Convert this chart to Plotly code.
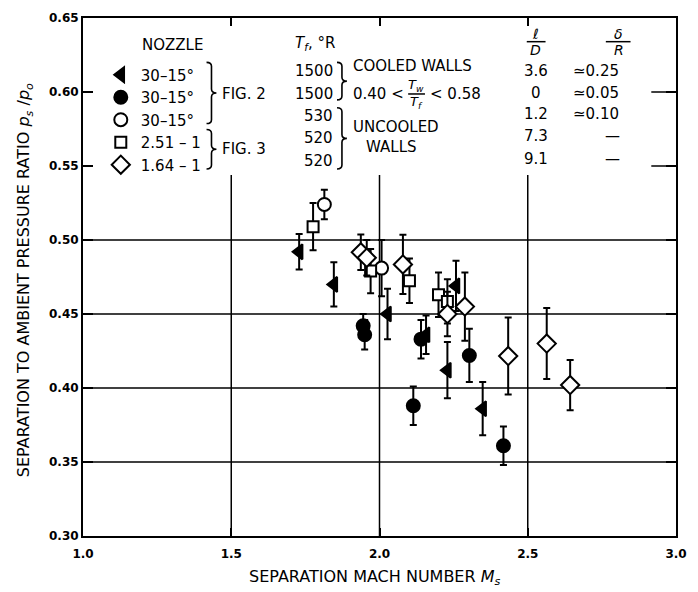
import plotly.graph_objects as go

# ---------------- data ----------------
tri_x = [1.729, 1.846, 2.027, 2.157, 2.229, 2.258, 2.348]
tri_y = [0.492, 0.470, 0.450, 0.436, 0.412, 0.469, 0.386]
tri_e = [0.012, 0.015, 0.017, 0.013, 0.019, 0.017, 0.018]

cir_x = [1.945, 1.950, 2.140, 2.114, 2.303, 2.418]
cir_y = [0.442, 0.436, 0.433, 0.388, 0.422, 0.361]
cir_e = [0.008, 0.010, 0.013, 0.013, 0.018, 0.013]

dome_x = [1.814, 2.007]
dome_y = [0.524, 0.481]
dome_e = [0.010, 0.019]

sq_x = [1.776, 1.970, 2.101, 2.199, 2.229]
sq_y = [0.509, 0.479, 0.4725, 0.463, 0.4585]
sq_e = [0.016, 0.015, 0.015, 0.015, 0.015]

dia_x = [1.937, 1.957, 2.079, 2.229, 2.288, 2.434, 2.564, 2.643]
dia_y = [0.4917, 0.488, 0.4835, 0.450, 0.455, 0.4216, 0.430, 0.402]
dia_e = [0.012, 0.012, 0.020, 0.015, 0.023, 0.026, 0.024, 0.017]

names = ["30–15°", "30–15°", "30–15°", "2.51 – 1", "1.64 – 1"]
tf_vals = ["1500", "1500", "530", "520", "520"]
ld_vals = ["3.6", "0", "1.2", "7.3", "9.1"]
dr_vals = ["≃0.25", "≃0.05", "≃0.10", "—", "—"]

x_ticks = [1.0, 1.5, 2.0, 2.5, 3.0]
y_ticks = [0.30, 0.35, 0.40, 0.45, 0.50, 0.55, 0.60, 0.65]
x_grid = [1.5, 2.0, 2.5]
y_grid = [0.35, 0.40, 0.45, 0.50]
y_right_ticks = [0.55, 0.60]

FONT = "DejaVu Sans"

# ---------------- figure ----------------
fig = go.Figure()

def add(x, y, e, sym, fill, name, size):
    fig.add_trace(go.Scatter(
        x=x, y=y, mode="markers", name=name,
        marker=dict(symbol=sym, color=fill, size=size,
                    line=dict(color="black", width=2)),
        error_y=dict(type="data", array=e, visible=True,
                     color="black", thickness=2, width=3.5),
    ))

add(tri_x, tri_y, tri_e, "triangle-left", "black", names[0], 13)
add(cir_x, cir_y, cir_e, "circle", "black", names[1], 13)
add(dome_x, dome_y, dome_e, "circle", "white", names[2], 13)
add(sq_x, sq_y, sq_e, "square", "white", names[3], 11)
add(dia_x, dia_y, dia_e, "diamond", "white", names[4], 14)

L, R, T, B = 83, 683, 11, 536
W, H = R - L, B - T

def px(x):
    return (x - L) / W

def py(y):
    return (B - y) / H

shapes = []
for gy in y_grid:
    shapes.append(dict(type="line", xref="x", yref="y", x0=x_ticks[0], x1=x_ticks[-1],
                       y0=gy, y1=gy, line=dict(color="black", width=1.5), layer="below"))
for gx in x_grid:
    shapes.append(dict(type="line", xref="x", yref="y", x0=gx, x1=gx,
                       y0=y_ticks[0], y1=0.544, line=dict(color="black", width=1.5), layer="below"))
for gy in y_right_ticks:
    shapes.append(dict(type="line", xref="paper", yref="y", x0=1 - 25 / W, x1=1,
                       y0=gy, y1=gy, line=dict(color="black", width=1.5), layer="below"))

def brace(x, y0, y1, w=5):
    ym = (y0 + y1) / 2
    r = 4
    p = (f"M {px(x)},{py(y0)} Q {px(x+w)},{py(y0)} {px(x+w)},{py(y0+r)} "
         f"L {px(x+w)},{py(ym-r)} Q {px(x+w)},{py(ym)} {px(x+2*w)},{py(ym)} "
         f"Q {px(x+w)},{py(ym)} {px(x+w)},{py(ym+r)} "
         f"L {px(x+w)},{py(y1-r)} Q {px(x+w)},{py(y1)} {px(x)},{py(y1)}")
    shapes.append(dict(type="path", xref="paper", yref="paper", path=p,
                       line=dict(color="black", width=1.6)))

brace(208, 56, 118)
brace(208, 124, 164)
brace(340, 56, 94)
brace(340, 102, 164)

def hbar(x0, x1, y):
    shapes.append(dict(type="line", xref="paper", yref="paper", x0=px(x0), x1=px(x1),
                       y0=py(y), y1=py(y), line=dict(color="black", width=1.5)))

hbar(532, 551, 35)
hbar(612, 637, 35)
hbar(412, 429, 88)

ann = []
def text(s, x, y, size=15, xanchor="center"):
    ann.append(dict(text=s, x=px(x), y=py(y), xref="paper", yref="paper",
                    showarrow=False, xanchor=xanchor, yanchor="middle",
                    font=dict(family=FONT, size=size, color="black")))

rows = [65, 88, 110, 133, 156]
text("NOZZLE", 174, 38)
text("<i>T<sub>f</sub></i>, °R", 318, 37)
text("FIG. 2", 222, 88, xanchor="left")
text("FIG. 3", 222, 144, xanchor="left")
for v, y in zip(tf_vals, rows):
    text(v, 338, y, xanchor="right")
text("COOLED WALLS", 354, 60, xanchor="left")
text("0.40 <", 354, 88, xanchor="left")
text("<i>T<sub>w</sub></i>", 420, 79, size=13)
text("<i>T<sub>f</sub></i>", 420, 97, size=13)
text("< 0.58", 432, 88, xanchor="left")
text("UNCOOLED", 354, 121, xanchor="left")
text("WALLS", 367, 142, xanchor="left")
text("<i>ℓ</i>", 541, 27, size=14)
text("<i>D</i>", 541, 43, size=14)
text("<i>δ</i>", 625, 27, size=14)
text("<i>R</i>", 625, 43, size=14)
ld_rows = [65, 87, 108, 131, 154]
for v, y in zip(ld_vals, ld_rows):
    text(v, 541, y)
for v, y in zip(dr_vals, ld_rows):
    if v == "—":
        text(v, 619, y)
    else:
        text(v, 577, y, xanchor="left")

text("SEPARATION MACH NUMBER <i>M<sub>s</sub></i>", 378, 578, size=16)
ann.append(dict(text="SEPARATION TO AMBIENT PRESSURE RATIO <i>p<sub>s</sub></i> /<i>p<sub>o</sub></i>",
                x=px(24), y=py(277), xref="paper", yref="paper", showarrow=False,
                textangle=-90, xanchor="center", yanchor="middle",
                font=dict(family=FONT, size=16, color="black")))

fig.update_layout(
    width=698, height=592,
    margin=dict(l=L, r=698 - R, t=T, b=592 - B),
    paper_bgcolor="white", plot_bgcolor="white",
    font=dict(family=FONT, size=15, color="black"),
    showlegend=True,
    legend=dict(x=px(101), y=py(52), xanchor="left", yanchor="top",
                bgcolor="rgba(0,0,0,0)", borderwidth=0, tracegroupgap=0,
                font=dict(family=FONT, size=15, color="black"),
                itemclick=False),
    shapes=shapes,
    annotations=ann,
)
fig.update_xaxes(range=[x_ticks[0], x_ticks[-1]], tickvals=x_ticks,
                 ticktext=[f"{v:.1f}" for v in x_ticks],
                 showgrid=False, zeroline=False, showline=True, linecolor="black",
                 linewidth=2, mirror="ticks", ticks="inside", ticklen=8, tickwidth=1.5,
                 tickcolor="black", ticklabelstandoff=6,
                 tickfont=dict(family=FONT, size=12, color="black", weight="bold"))
fig.update_yaxes(range=[y_ticks[0], y_ticks[-1]], tickvals=y_ticks,
                 ticktext=[f"{v:.2f}" for v in y_ticks],
                 showgrid=False, zeroline=False, showline=True, linecolor="black",
                 linewidth=2, mirror="ticks", ticks="inside", ticklen=10, tickwidth=1.5,
                 tickcolor="black",
                 tickfont=dict(family=FONT, size=12, color="black", weight="bold"))

fig.write_html("out.html")
